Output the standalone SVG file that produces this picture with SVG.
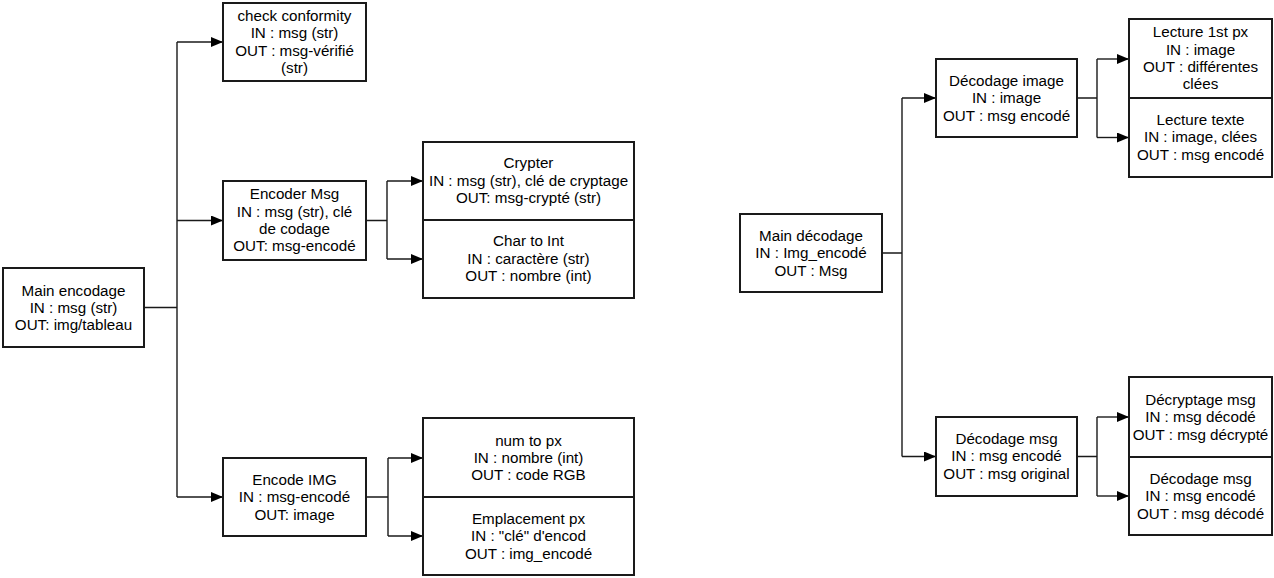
<svg xmlns="http://www.w3.org/2000/svg" width="1274" height="578" viewBox="0 0 1274 578">
<defs>
<style>
.box{fill:#fff;stroke:#1a1a1a;stroke-width:2}
.t{font-family:"Liberation Sans",Arial,sans-serif;font-size:15.2px;fill:#000;text-anchor:middle}
.c{fill:none;stroke:#1a1a1a;stroke-width:1.4}
.a{fill:none;stroke:#1a1a1a;stroke-width:1.4;marker-end:url(#ah)}
</style>
<marker id="ah" markerUnits="userSpaceOnUse" markerWidth="12" markerHeight="10" refX="12" refY="5" orient="auto">
<path d="M0,0 L12,5 L0,10 z" fill="#000"/>
</marker>
</defs>
<rect width="1274" height="578" fill="#fff"/>
<g id="connectors">
<path class="c" d="M144,307.5 H177 M177,42 V497"/>
<path class="a" d="M177,42 H223"/>
<path class="a" d="M177,220.5 H223"/>
<path class="a" d="M177,497 H223"/>
<path class="c" d="M366,220.5 H387 M387,181 V259"/>
<path class="a" d="M387,181 H423"/>
<path class="a" d="M387,259 H423"/>
<path class="c" d="M366,497 H388 M388,458 V536"/>
<path class="a" d="M388,458 H423"/>
<path class="a" d="M388,536 H423"/>
<path class="c" d="M882,253 H902 M902,98 V456.5"/>
<path class="a" d="M902,98 H936"/>
<path class="a" d="M902,456.5 H936"/>
<path class="c" d="M1077,98 H1097 M1097,59 V137.5"/>
<path class="a" d="M1097,59 H1129"/>
<path class="a" d="M1097,137.5 H1129"/>
<path class="c" d="M1077,456.5 H1097 M1097,417 V496"/>
<path class="a" d="M1097,417 H1129"/>
<path class="a" d="M1097,496 H1129"/>
</g>
<g id="main_encodage">
<rect class="box" x="3" y="268" width="141" height="79"/>
<text class="t" x="73.5" y="296">Main encodage</text>
<text class="t" x="73.5" y="313">IN : msg (str)</text>
<text class="t" x="73.5" y="330">OUT: img/tableau</text>
</g>
<g id="check_conformity">
<rect class="box" x="223" y="3" width="143" height="78"/>
<text class="t" x="294.5" y="21">check conformity</text>
<text class="t" x="294.5" y="38">IN : msg (str)</text>
<text class="t" x="294.5" y="56">OUT : msg-vérifié</text>
<text class="t" x="294.5" y="73">(str)</text>
</g>
<g id="encoder_msg">
<rect class="box" x="223" y="181" width="143" height="79"/>
<text class="t" x="294.5" y="199">Encoder Msg</text>
<text class="t" x="294.5" y="217">IN : msg (str), clé</text>
<text class="t" x="294.5" y="234">de codage</text>
<text class="t" x="294.5" y="251">OUT: msg-encodé</text>
</g>
<g id="crypter">
<rect class="box" x="423" y="142" width="211" height="78"/>
<text class="t" x="528.5" y="168">Crypter</text>
<text class="t" x="528.5" y="186">IN : msg (str), clé de cryptage</text>
<text class="t" x="528.5" y="203">OUT: msg-crypté (str)</text>
</g>
<g id="char_to_int">
<rect class="box" x="423" y="220" width="211" height="78"/>
<text class="t" x="528.5" y="246">Char to Int</text>
<text class="t" x="528.5" y="264">IN : caractère (str)</text>
<text class="t" x="528.5" y="281">OUT : nombre (int)</text>
</g>
<g id="encode_img">
<rect class="box" x="223" y="458" width="143" height="78"/>
<text class="t" x="294.5" y="485">Encode IMG</text>
<text class="t" x="294.5" y="502">IN : msg-encodé</text>
<text class="t" x="294.5" y="520">OUT: image</text>
</g>
<g id="num_to_px">
<rect class="box" x="423" y="418" width="211" height="79"/>
<text class="t" x="528.5" y="446">num to px</text>
<text class="t" x="528.5" y="463">IN : nombre (int)</text>
<text class="t" x="528.5" y="480">OUT : code RGB</text>
</g>
<g id="emplacement_px">
<rect class="box" x="423" y="497" width="211" height="78"/>
<text class="t" x="528.5" y="524">Emplacement px</text>
<text class="t" x="528.5" y="541">IN : "clé" d'encod</text>
<text class="t" x="528.5" y="559">OUT : img_encodé</text>
</g>
<g id="main_decodage">
<rect class="box" x="740" y="214" width="142" height="78"/>
<text class="t" x="811" y="241">Main décodage</text>
<text class="t" x="811" y="258">IN : Img_encodé</text>
<text class="t" x="811" y="276">OUT : Msg</text>
</g>
<g id="decodage_image">
<rect class="box" x="936" y="59" width="141" height="78"/>
<text class="t" x="1006.5" y="86">Décodage image</text>
<text class="t" x="1006.5" y="103">IN : image</text>
<text class="t" x="1006.5" y="121">OUT : msg encodé</text>
</g>
<g id="lecture_1st_px">
<rect class="box" x="1129" y="19" width="143" height="79"/>
<text class="t" x="1200.5" y="37">Lecture 1st px</text>
<text class="t" x="1200.5" y="55">IN : image</text>
<text class="t" x="1200.5" y="72">OUT : différentes</text>
<text class="t" x="1200.5" y="89">clées</text>
</g>
<g id="lecture_texte">
<rect class="box" x="1129" y="98" width="143" height="79"/>
<text class="t" x="1200.5" y="125">Lecture texte</text>
<text class="t" x="1200.5" y="142">IN : image, clées</text>
<text class="t" x="1200.5" y="160">OUT : msg encodé</text>
</g>
<g id="decodage_msg">
<rect class="box" x="936" y="417" width="141" height="79"/>
<text class="t" x="1006.5" y="444">Décodage msg</text>
<text class="t" x="1006.5" y="461">IN : msg encodé</text>
<text class="t" x="1006.5" y="479">OUT : msg original</text>
</g>
<g id="decryptage_msg">
<rect class="box" x="1129" y="377" width="143" height="80"/>
<text class="t" x="1200.5" y="405">Décryptage msg</text>
<text class="t" x="1200.5" y="422">IN : msg décodé</text>
<text class="t" x="1200.5" y="440">OUT : msg décrypté</text>
</g>
<g id="decodage_msg_2">
<rect class="box" x="1129" y="457" width="143" height="78"/>
<text class="t" x="1200.5" y="484">Décodage msg</text>
<text class="t" x="1200.5" y="501">IN : msg encodé</text>
<text class="t" x="1200.5" y="519">OUT : msg décodé</text>
</g>
</svg>
